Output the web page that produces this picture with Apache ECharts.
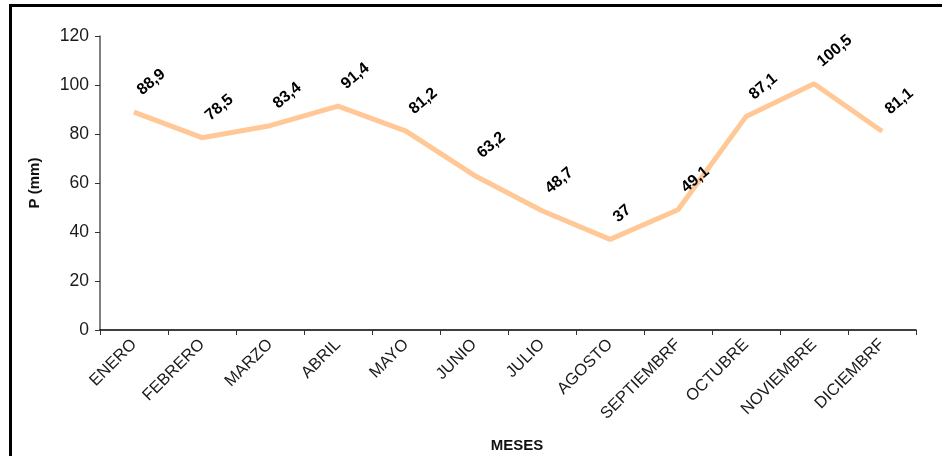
<!DOCTYPE html>
<html>
<head>
<meta charset="utf-8">
<script src="https://cdn.jsdelivr.net/npm/echarts@6/dist/echarts.min.js"></script>
<style>
  html, body { margin: 0; padding: 0; background: #fff; }
  #chart { width: 942px; height: 456px; }
  #frame { position: absolute; left: 9px; top: 4px; width: 940px; height: 460px;
           border-left: 3px solid #000; border-top: 3px solid #000; pointer-events: none; }
</style>
</head>
<body>
<div id="chart"></div>
<div id="frame"></div>
<script>
var months = ['ENERO', 'FEBRERO', 'MARZO', 'ABRIL', 'MAYO', 'JUNIO', 'JULIO',
  'AGOSTO', 'SEPTIEMBRF', 'OCTUBRE', 'NOVIEMBRE', 'DICIEMBRF'];
var rainfall = [88.9, 78.5, 83.4, 91.4, 81.2, 63.2, 48.7, 37, 49.1, 87.1, 100.5, 81.1];

var chart = echarts.init(document.getElementById('chart'));
chart.setOption({
  animation: false,
  grid: { left: 100, right: 26, top: 36, bottom: 126, outerBoundsMode: 'none', containLabel: false },
  xAxis: {
    type: 'category',
    data: months,
    name: 'MESES',
    nameLocation: 'middle',
    nameGap: 108,
    nameTextStyle: { fontFamily: 'Liberation Sans', fontSize: 15, fontWeight: 'bold', color: '#111', padding: [0, 0, 0, 18] },
    axisLine: { lineStyle: { color: '#000', width: 1.5 } },
    axisTick: { show: true, length: 5, lineStyle: { color: '#333' } },
    axisLabel: { rotate: 45, margin: 12, fontFamily: 'Liberation Sans', fontSize: 16.5, color: '#1a1a1a', interval: 0 }
  },
  yAxis: {
    type: 'value',
    min: 0, max: 120, interval: 20,
    name: 'P (mm)',
    nameLocation: 'middle',
    nameRotate: 90,
    nameGap: 58,
    nameTextStyle: { fontFamily: 'Liberation Sans', fontSize: 15, fontWeight: 'bold', color: '#111' },
    axisLine: { show: true, lineStyle: { color: '#555', width: 1.5 } },
    axisTick: { show: true, length: 5, lineStyle: { color: '#333' } },
    axisLabel: { margin: 11, fontFamily: 'Liberation Sans', fontSize: 17.5, color: '#1a1a1a' },
    splitLine: { show: false }
  },
  series: [{
    type: 'line',
    data: rainfall,
    symbol: 'circle',
    symbolSize: 1,
    itemStyle: { color: '#FFC896' },
    lineStyle: { color: '#FFC896', width: 5 },
    label: {
      show: true,
      position: 'top',
      distance: 15,
      offset: [7, 0],
      rotate: 40,
      align: 'left',
      verticalAlign: 'middle',
      fontFamily: 'Liberation Sans',
      fontSize: 16,
      fontWeight: 'bold',
      color: '#000',
      formatter: function (p) { return String(p.value).replace('.', ','); }
    }
  }]
});
</script>
</body>
</html>
